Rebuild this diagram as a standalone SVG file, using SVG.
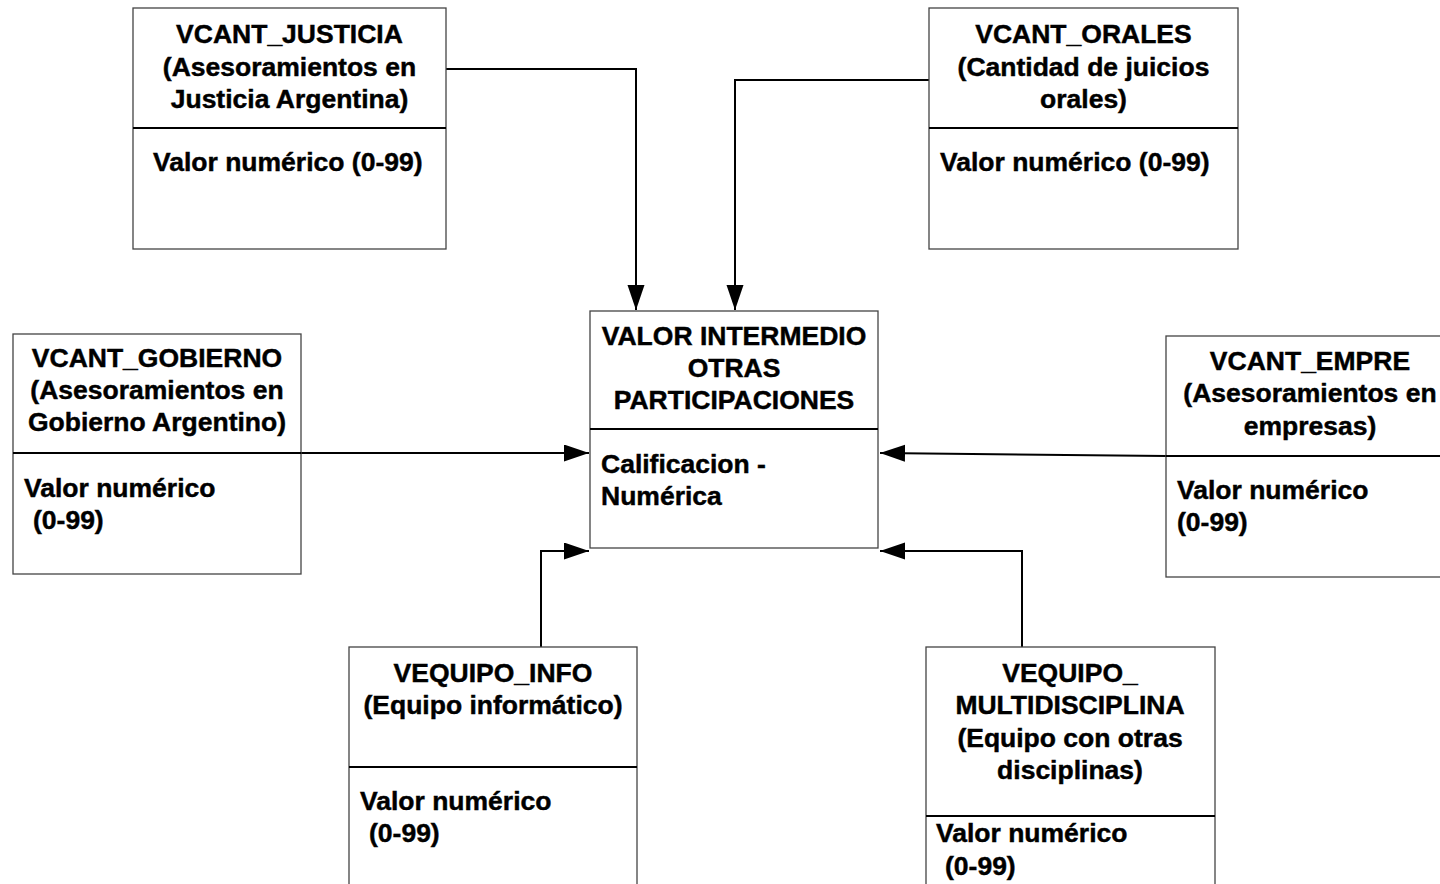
<svg xmlns="http://www.w3.org/2000/svg" width="1440" height="884" viewBox="0 0 1440 884">
<style>
  .box { fill: #ffffff; stroke: #444444; stroke-width: 1.3; }
  .div { stroke: #000000; stroke-width: 2; fill: none; }
  .conn { stroke: #000000; stroke-width: 2; fill: none; }
  text { font-family: "Liberation Sans", Arial, sans-serif; font-weight: bold; font-size: 26.5px; fill: #000000; stroke: #000000; stroke-width: 0.45; }
  .c { text-anchor: middle; }
</style>
<defs>
  <marker id="arrow" markerUnits="userSpaceOnUse" markerWidth="26" markerHeight="18" refX="25" refY="8.5" orient="auto">
    <path d="M0,0 L25,8.5 L0,17 Z" fill="#000000"/>
  </marker>
</defs>
<rect width="1440" height="884" fill="#ffffff"/>

<g id="connectors">
  <path class="conn" d="M446,69 H636 V310" marker-end="url(#arrow)"/>
  <path class="conn" d="M929,80 H735 V310" marker-end="url(#arrow)"/>
  <path class="conn" d="M301,453 H589" marker-end="url(#arrow)"/>
  <path class="conn" d="M1166,456 L880,453" marker-end="url(#arrow)"/>
  <path class="conn" d="M541,647 V551 H589" marker-end="url(#arrow)"/>
  <path class="conn" d="M1022,647 V551 H880" marker-end="url(#arrow)"/>
</g>

<g id="vcant_justicia">
  <rect class="box" x="133" y="8" width="313" height="241"/>
  <line class="div" x1="133" y1="128" x2="446" y2="128"/>
  <text class="c" x="289.5" y="43">VCANT_JUSTICIA</text>
  <text class="c" x="289.5" y="75.5">(Asesoramientos en</text>
  <text class="c" x="289.5" y="108">Justicia Argentina)</text>
  <text x="153" y="171">Valor numérico (0-99)</text>
</g>

<g id="vcant_orales">
  <rect class="box" x="929" y="8" width="309" height="241"/>
  <line class="div" x1="929" y1="128" x2="1238" y2="128"/>
  <text class="c" x="1083.5" y="43">VCANT_ORALES</text>
  <text class="c" x="1083.5" y="75.5">(Cantidad de juicios</text>
  <text class="c" x="1083.5" y="108">orales)</text>
  <text x="940" y="171">Valor numérico (0-99)</text>
</g>

<g id="valor_intermedio">
  <rect class="box" x="590" y="311" width="288" height="237"/>
  <line class="div" x1="590" y1="429" x2="878" y2="429"/>
  <text class="c" x="734" y="345">VALOR INTERMEDIO</text>
  <text class="c" x="734" y="377">OTRAS</text>
  <text class="c" x="734" y="409">PARTICIPACIONES</text>
  <text x="601" y="473">Calificacion -</text>
  <text x="601" y="505">Numérica</text>
</g>

<g id="vcant_gobierno">
  <rect class="box" x="13" y="334" width="288" height="240"/>
  <line class="div" x1="13" y1="453" x2="301" y2="453"/>
  <text class="c" x="157" y="367">VCANT_GOBIERNO</text>
  <text class="c" x="157" y="399">(Asesoramientos en</text>
  <text class="c" x="157" y="431">Gobierno Argentino)</text>
  <text x="24" y="496.5">Valor numérico</text>
  <text x="33" y="528.5">(0-99)</text>
</g>

<g id="vcant_empre">
  <rect class="box" x="1166" y="336" width="290" height="241"/>
  <line class="div" x1="1166" y1="456" x2="1456" y2="456"/>
  <text class="c" x="1310" y="370">VCANT_EMPRE</text>
  <text class="c" x="1310" y="402">(Asesoramientos en</text>
  <text class="c" x="1310" y="434.5">empresas)</text>
  <text x="1177" y="499">Valor numérico</text>
  <text x="1177" y="531">(0-99)</text>
</g>

<g id="vequipo_info">
  <rect class="box" x="349" y="647" width="288" height="260"/>
  <line class="div" x1="349" y1="767" x2="637" y2="767"/>
  <text class="c" x="493" y="682">VEQUIPO_INFO</text>
  <text class="c" x="493" y="714">(Equipo informático)</text>
  <text x="360" y="810">Valor numérico</text>
  <text x="369" y="842">(0-99)</text>
</g>

<g id="vequipo_multidisciplina">
  <rect class="box" x="926" y="647" width="289" height="260"/>
  <line class="div" x1="926" y1="816" x2="1215" y2="816"/>
  <text class="c" x="1070" y="682">VEQUIPO_</text>
  <text class="c" x="1070" y="714">MULTIDISCIPLINA</text>
  <text class="c" x="1070" y="746.5">(Equipo con otras</text>
  <text class="c" x="1070" y="779">disciplinas)</text>
  <text x="936" y="842">Valor numérico</text>
  <text x="945" y="874.5">(0-99)</text>
</g>
</svg>
